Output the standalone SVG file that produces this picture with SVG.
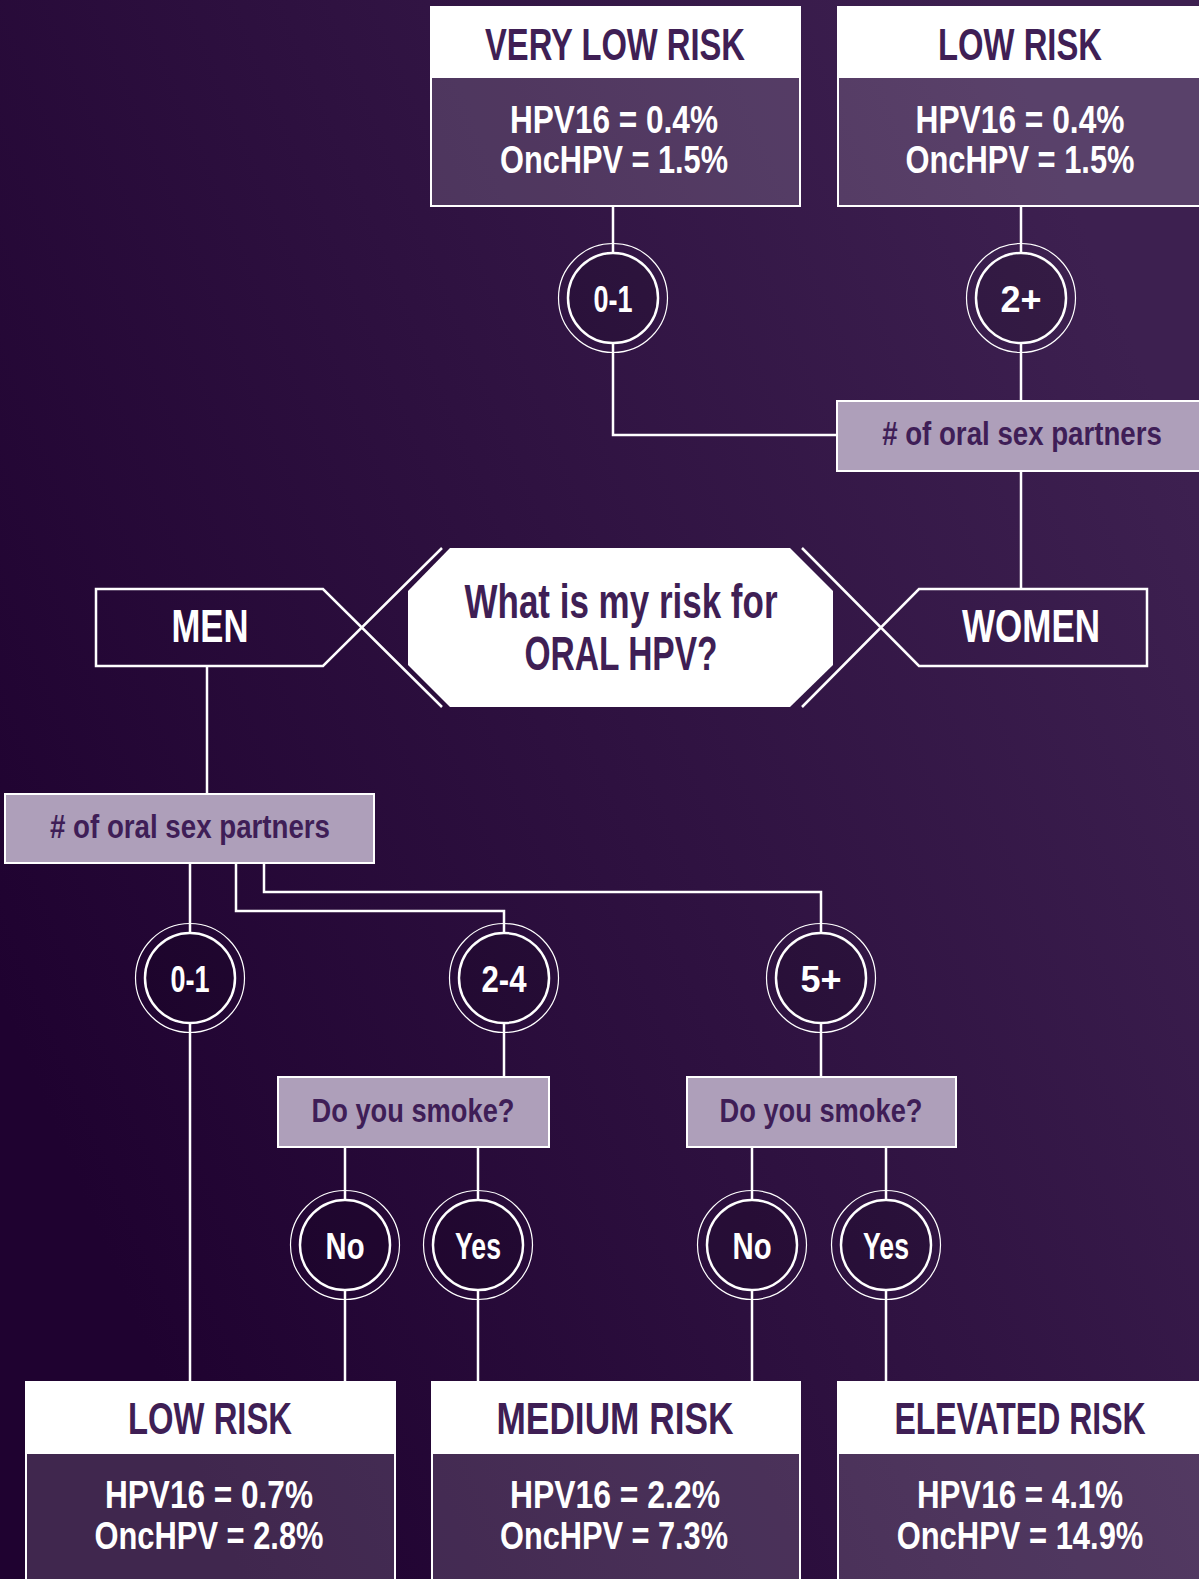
<svg xmlns="http://www.w3.org/2000/svg" width="1199" height="1579" viewBox="0 0 1199 1579">
<defs>
<linearGradient id="bg" gradientUnits="userSpaceOnUse" x1="0" y1="1000" x2="1199" y2="500">
<stop offset="0" stop-color="#1f0230"/>
<stop offset="1" stop-color="#3d2050"/>
</linearGradient>
<style>
text{font-family:"Liberation Sans",Arial,sans-serif;font-weight:bold;text-anchor:middle}
.ln{fill:none;stroke:#fff;stroke-width:2.5}
.frame{fill:none;stroke:#fff;stroke-width:2}
.hdr{fill:#fff}
.body{fill:#fff;fill-opacity:0.15}
.ht{fill:#3f1f55;font-size:44px}
.bt{fill:#fff;font-size:39px}
.q{fill:#ae9fba;stroke:#fff;stroke-width:2}
.qt{fill:#3f1e57;font-size:34px}
.ring{fill:none;stroke:#fff;stroke-width:1.2}
.inner{fill:url(#bg);stroke:#fff;stroke-width:2.5}
.shade{fill:#000;fill-opacity:0.13}
.ct{fill:#fff;font-size:37px}
.gt{fill:#fff;font-size:46px}
</style>
</defs>
<rect x="0" y="0" width="1199" height="1579" fill="url(#bg)"/>

<g id="connectors">
<path class="ln" d="M613 206V435H837"/>
<path class="ln" d="M1021 206V401"/>
<path class="ln" d="M1021 471V589"/>
<path class="ln" d="M207 666V794"/>
<path class="ln" d="M190 863V1382"/>
<path class="ln" d="M236 863V911H504V1077"/>
<path class="ln" d="M264 863V892H821V1077"/>
<path class="ln" d="M345 1147V1382"/>
<path class="ln" d="M478 1147V1382"/>
<path class="ln" d="M752 1147V1382"/>
<path class="ln" d="M886 1147V1382"/>
</g>

<g id="center-question">
<polygon points="450,548 790,548 833,591 833,665 790,707 450,707 408,665 408,591" fill="#fff"/>
<text x="621" y="618" font-size="48" fill="#3f1f55" textLength="313" lengthAdjust="spacingAndGlyphs">What is my risk for</text>
<text x="621" y="670" font-size="48" fill="#3f1f55" textLength="193" lengthAdjust="spacingAndGlyphs">ORAL HPV?</text>
</g>

<g id="men">
<path class="ln" d="M442 548L323 666H96V589H323L442 707" stroke-width="2"/>
<text class="gt" x="210" y="642" textLength="77" lengthAdjust="spacingAndGlyphs">MEN</text>
</g>

<g id="women">
<path class="ln" d="M802 548L919 666H1147V589H919L802 707" stroke-width="2"/>
<text class="gt" x="1031" y="642" textLength="138" lengthAdjust="spacingAndGlyphs">WOMEN</text>
</g>

<g id="very-low-risk">
<rect class="hdr" x="431" y="7" width="369" height="71"/>
<rect class="body" x="431" y="78" width="369" height="128"/>
<rect class="frame" x="431" y="7" width="369" height="199"/>
<text class="ht" x="615" y="60" textLength="260" lengthAdjust="spacingAndGlyphs">VERY LOW RISK</text>
<text class="bt" x="614" y="133" textLength="208" lengthAdjust="spacingAndGlyphs">HPV16 = 0.4%</text>
<text class="bt" x="614" y="173" textLength="228" lengthAdjust="spacingAndGlyphs">OncHPV = 1.5%</text>
</g>

<g id="low-risk-women">
<rect class="hdr" x="838" y="7" width="361" height="71"/>
<rect class="body" x="838" y="78" width="361" height="128"/>
<rect class="frame" x="838" y="7" width="362" height="199"/>
<text class="ht" x="1020" y="60" textLength="164" lengthAdjust="spacingAndGlyphs">LOW RISK</text>
<text class="bt" x="1020" y="133" textLength="209" lengthAdjust="spacingAndGlyphs">HPV16 = 0.4%</text>
<text class="bt" x="1020" y="173" textLength="229" lengthAdjust="spacingAndGlyphs">OncHPV = 1.5%</text>
</g>

<g id="women-partners">
<rect class="q" x="837" y="401" width="363" height="70"/>
<text class="qt" transform="translate(1022 445) scale(0.75 1)" x="0" y="0" textLength="373" lengthAdjust="spacingAndGlyphs"># of oral sex partners</text>
</g>

<g id="men-partners">
<rect class="q" x="5" y="794" width="369" height="69"/>
<text class="qt" x="190" y="838" textLength="280" lengthAdjust="spacingAndGlyphs"># of oral sex partners</text>
</g>

<g id="w-0-1">
<circle class="ring" cx="613" cy="298" r="54.5"/>
<circle class="inner" cx="613" cy="298" r="45"/>
<circle class="shade" cx="613" cy="298" r="44"/>
<text class="ct" x="613" y="312" textLength="39" lengthAdjust="spacingAndGlyphs">0-1</text>
</g>
<g id="w-2plus">
<circle class="ring" cx="1021" cy="298" r="54.5"/>
<circle class="inner" cx="1021" cy="298" r="45"/>
<circle class="shade" cx="1021" cy="298" r="44"/>
<text class="ct" x="1021" y="312" textLength="41" lengthAdjust="spacingAndGlyphs">2+</text>
</g>
<g id="m-0-1">
<circle class="ring" cx="190" cy="978" r="54.5"/>
<circle class="inner" cx="190" cy="978" r="45"/>
<circle class="shade" cx="190" cy="978" r="44"/>
<text class="ct" x="190" y="992" textLength="39" lengthAdjust="spacingAndGlyphs">0-1</text>
</g>
<g id="m-2-4">
<circle class="ring" cx="504" cy="978" r="54.5"/>
<circle class="inner" cx="504" cy="978" r="45"/>
<circle class="shade" cx="504" cy="978" r="44"/>
<text class="ct" x="504" y="992" textLength="45" lengthAdjust="spacingAndGlyphs">2-4</text>
</g>
<g id="m-5plus">
<circle class="ring" cx="821" cy="978" r="54.5"/>
<circle class="inner" cx="821" cy="978" r="45"/>
<circle class="shade" cx="821" cy="978" r="44"/>
<text class="ct" x="821" y="992" textLength="41" lengthAdjust="spacingAndGlyphs">5+</text>
</g>

<g id="smoke-1">
<rect class="q" x="278" y="1077" width="271" height="70"/>
<text class="qt" x="413" y="1122" textLength="203" lengthAdjust="spacingAndGlyphs">Do you smoke?</text>
</g>
<g id="smoke-2">
<rect class="q" x="687" y="1077" width="269" height="70"/>
<text class="qt" x="821" y="1122" textLength="203" lengthAdjust="spacingAndGlyphs">Do you smoke?</text>
</g>

<g id="no-1">
<circle class="ring" cx="345" cy="1245" r="54.5"/>
<circle class="inner" cx="345" cy="1245" r="45"/>
<circle class="shade" cx="345" cy="1245" r="44"/>
<text class="ct" x="345" y="1259" textLength="39" lengthAdjust="spacingAndGlyphs">No</text>
</g>
<g id="yes-1">
<circle class="ring" cx="478" cy="1245" r="54.5"/>
<circle class="inner" cx="478" cy="1245" r="45"/>
<circle class="shade" cx="478" cy="1245" r="44"/>
<text class="ct" x="478" y="1259" textLength="46" lengthAdjust="spacingAndGlyphs">Yes</text>
</g>
<g id="no-2">
<circle class="ring" cx="752" cy="1245" r="54.5"/>
<circle class="inner" cx="752" cy="1245" r="45"/>
<circle class="shade" cx="752" cy="1245" r="44"/>
<text class="ct" x="752" y="1259" textLength="39" lengthAdjust="spacingAndGlyphs">No</text>
</g>
<g id="yes-2">
<circle class="ring" cx="886" cy="1245" r="54.5"/>
<circle class="inner" cx="886" cy="1245" r="45"/>
<circle class="shade" cx="886" cy="1245" r="44"/>
<text class="ct" x="886" y="1259" textLength="46" lengthAdjust="spacingAndGlyphs">Yes</text>
</g>

<g id="low-risk-men">
<rect class="hdr" x="26" y="1382" width="369" height="72"/>
<rect class="body" x="26" y="1454" width="369" height="125"/>
<path class="frame" d="M26 1580V1382H395V1580"/>
<text class="ht" x="210" y="1434" textLength="164" lengthAdjust="spacingAndGlyphs">LOW RISK</text>
<text class="bt" x="209" y="1508" textLength="208" lengthAdjust="spacingAndGlyphs">HPV16 = 0.7%</text>
<text class="bt" x="209" y="1549" textLength="229" lengthAdjust="spacingAndGlyphs">OncHPV = 2.8%</text>
</g>
<g id="medium-risk">
<rect class="hdr" x="432" y="1382" width="368" height="72"/>
<rect class="body" x="432" y="1454" width="368" height="125"/>
<path class="frame" d="M432 1580V1382H800V1580"/>
<text class="ht" x="615" y="1434" textLength="237" lengthAdjust="spacingAndGlyphs">MEDIUM RISK</text>
<text class="bt" x="615" y="1508" textLength="210" lengthAdjust="spacingAndGlyphs">HPV16 = 2.2%</text>
<text class="bt" x="614" y="1549" textLength="228" lengthAdjust="spacingAndGlyphs">OncHPV = 7.3%</text>
</g>
<g id="elevated-risk">
<rect class="hdr" x="838" y="1382" width="361" height="72"/>
<rect class="body" x="838" y="1454" width="361" height="125"/>
<path class="frame" d="M838 1580V1382H1200"/>
<text class="ht" transform="translate(1020 1434) scale(0.75 1)" x="0" y="0" textLength="335" lengthAdjust="spacingAndGlyphs">ELEVATED RISK</text>
<text class="bt" transform="translate(1020 1508) scale(0.75 1)" x="0" y="0" textLength="275" lengthAdjust="spacingAndGlyphs">HPV16 = 4.1%</text>
<text class="bt" transform="translate(1020 1549) scale(0.75 1)" x="0" y="0" textLength="329" lengthAdjust="spacingAndGlyphs">OncHPV = 14.9%</text>
</g>
</svg>
